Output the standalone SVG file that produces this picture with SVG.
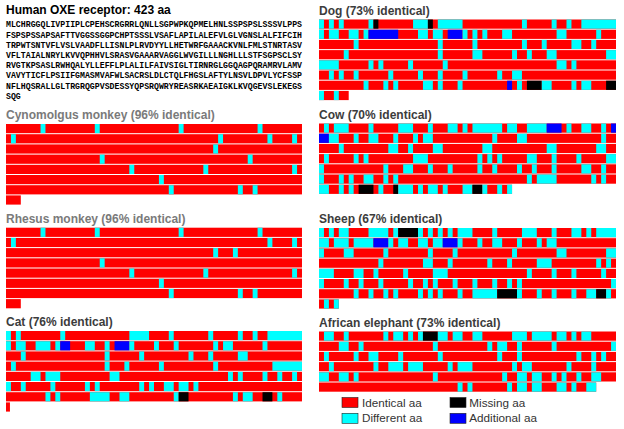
<svg xmlns="http://www.w3.org/2000/svg" width="624" height="429" viewBox="0 0 624 429">
<style>
.r{fill:#ff0000}.c{fill:#00ffff}.k{fill:#000000}.b{fill:#0000ff}
.t{font-family:"Liberation Sans",Arial,sans-serif;font-weight:bold;font-size:12px}
.g1{fill:#7a7a7a}.g2{fill:#3c3c3c}
.seq{font-family:"Liberation Mono","Courier New",monospace;font-weight:bold;font-size:8.2px;fill:#000}
.lg{font-family:"Liberation Sans",Arial,sans-serif;font-size:11.7px;fill:#333}
</style>
<rect width="624" height="429" fill="#fff"/>

<g id="human">
<text class="t" x="6" y="14" fill="#000">Human OXE receptor: 423 aa</text>
<text class="seq" x="6" y="27.3" textLength="296" lengthAdjust="spacing">MLCHRGGQLIVPIIPLCPEHSCRGRRLQNLLSGPWPKQPMELHNLSSPSPSLSSSVLPPS</text>
<text class="seq" x="6" y="37.5" textLength="296" lengthAdjust="spacing">FSPSPSSAPSAFTTVGGSSGGPCHPTSSSLVSAFLAPILALEFVLGLVGNSLALFIFCIH</text>
<text class="seq" x="6" y="47.7" textLength="296" lengthAdjust="spacing">TRPWTSNTVFLVSLVAADFLLISNLPLRVDYYLLHETWRFGAAACKVNLFMLSTNRTASV</text>
<text class="seq" x="6" y="57.9" textLength="296" lengthAdjust="spacing">VFLTAIALNRYLKVVQPHHVLSRASVGAAARVAGGLWVGILLLNGHLLLSTFSGPSCLSY</text>
<text class="seq" x="6" y="68.1" textLength="296" lengthAdjust="spacing">RVGTKPSASLRWHQALYLLEFFLPLALILFAIVSIGLTIRNRGLGGQAGPQRAMRVLAMV</text>
<text class="seq" x="6" y="78.3" textLength="296" lengthAdjust="spacing">VAVYTICFLPSIIFGMASMVAFWLSACRSLDLCTQLFHGSLAFTYLNSVLDPVLYCFSSP</text>
<text class="seq" x="6" y="88.5" textLength="296" lengthAdjust="spacing">NFLHQSRALLGLTRGRQGPVSDESSYQPSRQWRYREASRKAEAIGKLKVQGEVSLEKEGS</text>
<text class="seq" x="6" y="98.9">SQG</text>
</g>

<g id="dog">
<text class="t g2" x="319" y="14.8">Dog (73% identical)</text>
<g transform="translate(319,19.5) scale(4.95,1)">
<rect class="r" x="0" y="0" width="60" height="9.2"/><rect class="r" x="0" y="10.2" width="60" height="9.2"/><rect class="r" x="0" y="20.4" width="60" height="9.2"/><rect class="r" x="0" y="30.6" width="60" height="9.2"/><rect class="r" x="0" y="40.8" width="60" height="9.2"/><rect class="r" x="0" y="51" width="60" height="9.2"/><rect class="r" x="0" y="61.2" width="60" height="9.2"/><rect class="r" x="0" y="71.4" width="6" height="9.2"/>
<rect class="c" x="0" y="0" width="1" height="9.2"/><rect class="c" x="2" y="0" width="1" height="9.2"/><rect class="c" x="4" y="0" width="1" height="9.2"/><rect class="c" x="10" y="0" width="1" height="9.2"/><rect class="k" x="11" y="0" width="1" height="9.2"/><rect class="c" x="19" y="0" width="3" height="9.2"/><rect class="k" x="22" y="0" width="1" height="9.2"/><rect class="c" x="24" y="0" width="5" height="9.2"/><rect class="c" x="41" y="0" width="1" height="9.2"/><rect class="c" x="47" y="0" width="1" height="9.2"/><rect class="c" x="50" y="0" width="1" height="9.2"/><rect class="c" x="53" y="0" width="7" height="9.2"/>
<rect class="c" x="0" y="10.2" width="1" height="9.2"/><rect class="c" x="2" y="10.2" width="2" height="9.2"/><rect class="c" x="6" y="10.2" width="2" height="9.2"/><rect class="c" x="9" y="10.2" width="1" height="9.2"/><rect class="b" x="10" y="10.2" width="6" height="9.2"/><rect class="c" x="20" y="10.2" width="2" height="9.2"/><rect class="c" x="23" y="10.2" width="2" height="9.2"/><rect class="b" x="26" y="10.2" width="3" height="9.2"/><rect class="c" x="29" y="10.2" width="1" height="9.2"/><rect class="c" x="31" y="10.2" width="1" height="9.2"/><rect class="c" x="33" y="10.2" width="1" height="9.2"/><rect class="c" x="37" y="10.2" width="2" height="9.2"/><rect class="c" x="48" y="10.2" width="2" height="9.2"/><rect class="c" x="56" y="10.2" width="1" height="9.2"/>
<rect class="c" x="7" y="20.4" width="1" height="9.2"/><rect class="c" x="24" y="20.4" width="1" height="9.2"/><rect class="c" x="31" y="20.4" width="1" height="9.2"/><rect class="c" x="41" y="20.4" width="1" height="9.2"/><rect class="c" x="45" y="20.4" width="1" height="9.2"/><rect class="c" x="51" y="20.4" width="2" height="9.2"/><rect class="c" x="55" y="20.4" width="1" height="9.2"/>
<rect class="c" x="5" y="30.6" width="1" height="9.2"/><rect class="c" x="24" y="30.6" width="1" height="9.2"/><rect class="c" x="31" y="30.6" width="2" height="9.2"/><rect class="c" x="39" y="30.6" width="1" height="9.2"/><rect class="c" x="42" y="30.6" width="1" height="9.2"/><rect class="c" x="46" y="30.6" width="2" height="9.2"/><rect class="c" x="58" y="30.6" width="2" height="9.2"/>
<rect class="c" x="0" y="40.8" width="4" height="9.2"/><rect class="c" x="10" y="40.8" width="1" height="9.2"/><rect class="c" x="12" y="40.8" width="1" height="9.2"/><rect class="c" x="18" y="40.8" width="1" height="9.2"/><rect class="c" x="25" y="40.8" width="1" height="9.2"/><rect class="c" x="48" y="40.8" width="2" height="9.2"/><rect class="c" x="51" y="40.8" width="1" height="9.2"/>
<rect class="c" x="2" y="51" width="1" height="9.2"/><rect class="c" x="4" y="51" width="1" height="9.2"/><rect class="c" x="7" y="51" width="1" height="9.2"/><rect class="c" x="14" y="51" width="1" height="9.2"/><rect class="c" x="20" y="51" width="1" height="9.2"/><rect class="c" x="24" y="51" width="1" height="9.2"/><rect class="c" x="29" y="51" width="1" height="9.2"/><rect class="c" x="36" y="51" width="1" height="9.2"/><rect class="c" x="39" y="51" width="2" height="9.2"/>
<rect class="c" x="9" y="61.2" width="1" height="9.2"/><rect class="c" x="13" y="61.2" width="1" height="9.2"/><rect class="c" x="15" y="61.2" width="1" height="9.2"/><rect class="c" x="21" y="61.2" width="2" height="9.2"/><rect class="c" x="24" y="61.2" width="1" height="9.2"/><rect class="c" x="28" y="61.2" width="1" height="9.2"/><rect class="b" x="38" y="61.2" width="1" height="9.2"/><rect class="c" x="40" y="61.2" width="1" height="9.2"/><rect class="k" x="42" y="61.2" width="3" height="9.2"/><rect class="c" x="45" y="61.2" width="2" height="9.2"/><rect class="c" x="51" y="61.2" width="1" height="9.2"/><rect class="c" x="53" y="61.2" width="2" height="9.2"/><rect class="k" x="58" y="61.2" width="2" height="9.2"/>
<rect class="c" x="0" y="71.4" width="1" height="9.2"/><rect class="c" x="3" y="71.4" width="1" height="9.2"/>
</g>
</g>

<g id="cynomolgus">
<text class="t g1" x="6" y="119.3">Cynomolgus monkey (96% identical)</text>
<g transform="translate(6,124) scale(4.933,1)">
<rect class="r" x="0" y="0" width="60" height="9.2"/><rect class="r" x="0" y="10.2" width="60" height="9.2"/><rect class="r" x="0" y="20.4" width="60" height="9.2"/><rect class="r" x="0" y="30.6" width="60" height="9.2"/><rect class="r" x="0" y="40.8" width="60" height="9.2"/><rect class="r" x="0" y="51" width="60" height="9.2"/><rect class="r" x="0" y="61.2" width="60" height="9.2"/><rect class="r" x="0" y="71.4" width="3" height="9.2"/>
<rect class="c" x="7" y="0" width="1" height="9.2"/><rect class="c" x="18" y="0" width="1" height="9.2"/><rect class="c" x="35" y="0" width="1" height="9.2"/><rect class="c" x="51" y="0" width="1" height="9.2"/>
<rect class="c" x="1" y="10.2" width="1" height="9.2"/><rect class="c" x="43" y="10.2" width="1" height="9.2"/><rect class="c" x="53" y="10.2" width="1" height="9.2"/><rect class="c" x="58" y="10.2" width="1" height="9.2"/>
<rect class="c" x="42" y="20.4" width="1" height="9.2"/>
<rect class="c" x="19" y="30.6" width="1" height="9.2"/><rect class="c" x="49" y="30.6" width="1" height="9.2"/>
<rect class="c" x="25" y="40.8" width="1" height="9.2"/><rect class="c" x="40" y="40.8" width="1" height="9.2"/><rect class="c" x="58" y="40.8" width="1" height="9.2"/>
<rect class="c" x="31" y="51" width="1" height="9.2"/>
<rect class="c" x="33" y="61.2" width="1" height="9.2"/><rect class="c" x="47" y="61.2" width="1" height="9.2"/><rect class="c" x="50" y="61.2" width="1" height="9.2"/>
</g>
</g>

<g id="cow">
<text class="t g2" x="319" y="118.8">Cow (70% identical)</text>
<g transform="translate(319,123.5) scale(4.95,1)">
<rect class="r" x="0" y="0" width="60" height="9.2"/><rect class="r" x="0" y="10.2" width="60" height="9.2"/><rect class="r" x="0" y="20.4" width="60" height="9.2"/><rect class="r" x="0" y="30.6" width="60" height="9.2"/><rect class="r" x="0" y="40.8" width="60" height="9.2"/><rect class="r" x="0" y="51" width="60" height="9.2"/><rect class="r" x="0" y="61.2" width="39" height="9.2"/>
<rect class="c" x="1" y="0" width="1" height="9.2"/><rect class="c" x="3" y="0" width="3" height="9.2"/><rect class="c" x="10" y="0" width="1" height="9.2"/><rect class="c" x="16" y="0" width="3" height="9.2"/><rect class="c" x="22" y="0" width="1" height="9.2"/><rect class="c" x="26" y="0" width="2" height="9.2"/><rect class="c" x="29" y="0" width="1" height="9.2"/><rect class="c" x="31" y="0" width="6" height="9.2"/><rect class="c" x="38" y="0" width="2" height="9.2"/><rect class="c" x="42" y="0" width="4" height="9.2"/><rect class="b" x="46" y="0" width="3" height="9.2"/><rect class="c" x="50" y="0" width="1" height="9.2"/><rect class="c" x="53" y="0" width="2" height="9.2"/><rect class="c" x="57" y="0" width="1" height="9.2"/><rect class="b" x="59" y="0" width="1" height="9.2"/>
<rect class="b" x="0" y="10.2" width="2" height="9.2"/><rect class="c" x="2" y="10.2" width="2" height="9.2"/><rect class="c" x="7" y="10.2" width="1" height="9.2"/><rect class="c" x="10" y="10.2" width="2" height="9.2"/><rect class="c" x="15" y="10.2" width="1" height="9.2"/><rect class="c" x="19" y="10.2" width="1" height="9.2"/><rect class="c" x="21" y="10.2" width="2" height="9.2"/><rect class="c" x="35" y="10.2" width="1" height="9.2"/><rect class="c" x="40" y="10.2" width="2" height="9.2"/><rect class="c" x="57" y="10.2" width="1" height="9.2"/>
<rect class="c" x="4" y="20.4" width="1" height="9.2"/><rect class="c" x="14" y="20.4" width="2" height="9.2"/><rect class="c" x="18" y="20.4" width="1" height="9.2"/><rect class="c" x="23" y="20.4" width="2" height="9.2"/><rect class="c" x="33" y="20.4" width="2" height="9.2"/><rect class="c" x="46" y="20.4" width="2" height="9.2"/><rect class="c" x="56" y="20.4" width="2" height="9.2"/>
<rect class="c" x="1" y="30.6" width="1" height="9.2"/><rect class="c" x="7" y="30.6" width="1" height="9.2"/><rect class="c" x="9" y="30.6" width="1" height="9.2"/><rect class="c" x="19" y="30.6" width="3" height="9.2"/><rect class="c" x="32" y="30.6" width="1" height="9.2"/><rect class="c" x="34" y="30.6" width="1" height="9.2"/><rect class="c" x="36" y="30.6" width="1" height="9.2"/><rect class="c" x="42" y="30.6" width="2" height="9.2"/><rect class="c" x="47" y="30.6" width="1" height="9.2"/><rect class="c" x="52" y="30.6" width="1" height="9.2"/><rect class="c" x="58" y="30.6" width="2" height="9.2"/>
<rect class="c" x="0" y="40.8" width="1" height="9.2"/><rect class="c" x="13" y="40.8" width="1" height="9.2"/><rect class="c" x="17" y="40.8" width="2" height="9.2"/><rect class="c" x="22" y="40.8" width="1" height="9.2"/><rect class="c" x="26" y="40.8" width="1" height="9.2"/><rect class="c" x="32" y="40.8" width="1" height="9.2"/><rect class="c" x="35" y="40.8" width="1" height="9.2"/><rect class="c" x="40" y="40.8" width="1" height="9.2"/><rect class="c" x="43" y="40.8" width="1" height="9.2"/><rect class="c" x="47" y="40.8" width="1" height="9.2"/><rect class="c" x="53" y="40.8" width="2" height="9.2"/><rect class="c" x="57" y="40.8" width="1" height="9.2"/>
<rect class="c" x="0" y="51" width="1" height="9.2"/><rect class="c" x="4" y="51" width="1" height="9.2"/><rect class="c" x="6" y="51" width="1" height="9.2"/><rect class="c" x="9" y="51" width="2" height="9.2"/><rect class="c" x="13" y="51" width="1" height="9.2"/><rect class="c" x="15" y="51" width="1" height="9.2"/><rect class="c" x="42" y="51" width="1" height="9.2"/><rect class="c" x="44" y="51" width="4" height="9.2"/><rect class="c" x="55" y="51" width="1" height="9.2"/><rect class="c" x="57" y="51" width="1" height="9.2"/>
<rect class="c" x="0" y="61.2" width="2" height="9.2"/><rect class="c" x="4" y="61.2" width="1" height="9.2"/><rect class="c" x="6" y="61.2" width="1" height="9.2"/><rect class="k" x="8" y="61.2" width="3" height="9.2"/><rect class="c" x="12" y="61.2" width="1" height="9.2"/><rect class="k" x="15" y="61.2" width="1" height="9.2"/><rect class="c" x="16" y="61.2" width="3" height="9.2"/><rect class="c" x="20" y="61.2" width="1" height="9.2"/><rect class="c" x="22" y="61.2" width="2" height="9.2"/><rect class="c" x="25" y="61.2" width="1" height="9.2"/><rect class="c" x="29" y="61.2" width="2" height="9.2"/><rect class="k" x="31" y="61.2" width="2" height="9.2"/><rect class="c" x="33" y="61.2" width="1" height="9.2"/><rect class="c" x="36" y="61.2" width="1" height="9.2"/><rect class="c" x="38" y="61.2" width="1" height="9.2"/>
</g>
</g>

<g id="rhesus">
<text class="t g1" x="6" y="223">Rhesus monkey (96% identical)</text>
<g transform="translate(6,227.7) scale(4.933,1)">
<rect class="r" x="0" y="0" width="60" height="9.2"/><rect class="r" x="0" y="10.2" width="60" height="9.2"/><rect class="r" x="0" y="20.4" width="60" height="9.2"/><rect class="r" x="0" y="30.6" width="60" height="9.2"/><rect class="r" x="0" y="40.8" width="60" height="9.2"/><rect class="r" x="0" y="51" width="60" height="9.2"/><rect class="r" x="0" y="61.2" width="60" height="9.2"/><rect class="r" x="0" y="71.4" width="3" height="9.2"/>
<rect class="c" x="7" y="0" width="1" height="9.2"/><rect class="c" x="18" y="0" width="1" height="9.2"/><rect class="c" x="35" y="0" width="1" height="9.2"/><rect class="c" x="51" y="0" width="1" height="9.2"/>
<rect class="c" x="1" y="10.2" width="1" height="9.2"/><rect class="c" x="53" y="10.2" width="1" height="9.2"/><rect class="c" x="58" y="10.2" width="1" height="9.2"/>
<rect class="c" x="42" y="20.4" width="1" height="9.2"/><rect class="c" x="46" y="20.4" width="1" height="9.2"/>
<rect class="c" x="19" y="30.6" width="1" height="9.2"/>
<rect class="c" x="25" y="40.8" width="1" height="9.2"/><rect class="c" x="40" y="40.8" width="1" height="9.2"/><rect class="c" x="58" y="40.8" width="1" height="9.2"/>
<rect class="c" x="31" y="51" width="1" height="9.2"/>
<rect class="c" x="33" y="61.2" width="1" height="9.2"/><rect class="c" x="47" y="61.2" width="1" height="9.2"/><rect class="c" x="50" y="61.2" width="1" height="9.2"/>
</g>
</g>

<g id="sheep">
<text class="t g2" x="319" y="223.3">Sheep (67% identical)</text>
<g transform="translate(319,228) scale(4.95,1)">
<rect class="r" x="0" y="0" width="60" height="9.2"/><rect class="r" x="0" y="10.2" width="60" height="9.2"/><rect class="r" x="0" y="20.4" width="60" height="9.2"/><rect class="r" x="0" y="30.6" width="60" height="9.2"/><rect class="r" x="0" y="40.8" width="60" height="9.2"/><rect class="r" x="0" y="51" width="60" height="9.2"/><rect class="r" x="0" y="61.2" width="60" height="9.2"/><rect class="r" x="0" y="71.4" width="4" height="9.2"/>
<rect class="c" x="0" y="0" width="1" height="9.2"/><rect class="c" x="2" y="0" width="1" height="9.2"/><rect class="c" x="4" y="0" width="2" height="9.2"/><rect class="c" x="10" y="0" width="4" height="9.2"/><rect class="c" x="15" y="0" width="1" height="9.2"/><rect class="k" x="16" y="0" width="4" height="9.2"/><rect class="c" x="20" y="0" width="1" height="9.2"/><rect class="c" x="22" y="0" width="1" height="9.2"/><rect class="c" x="24" y="0" width="1" height="9.2"/><rect class="c" x="26" y="0" width="1" height="9.2"/><rect class="c" x="28" y="0" width="3" height="9.2"/><rect class="c" x="35" y="0" width="1" height="9.2"/><rect class="c" x="41" y="0" width="3" height="9.2"/><rect class="c" x="47" y="0" width="1" height="9.2"/><rect class="c" x="51" y="0" width="2" height="9.2"/><rect class="c" x="54" y="0" width="1" height="9.2"/><rect class="c" x="56" y="0" width="4" height="9.2"/>
<rect class="c" x="0" y="10.2" width="2" height="9.2"/><rect class="c" x="3" y="10.2" width="3" height="9.2"/><rect class="c" x="7" y="10.2" width="4" height="9.2"/><rect class="b" x="11" y="10.2" width="3" height="9.2"/><rect class="c" x="14" y="10.2" width="1" height="9.2"/><rect class="c" x="16" y="10.2" width="2" height="9.2"/><rect class="c" x="20" y="10.2" width="2" height="9.2"/><rect class="c" x="23" y="10.2" width="2" height="9.2"/><rect class="b" x="25" y="10.2" width="3" height="9.2"/><rect class="c" x="28" y="10.2" width="1" height="9.2"/><rect class="c" x="32" y="10.2" width="1" height="9.2"/><rect class="c" x="35" y="10.2" width="2" height="9.2"/><rect class="c" x="40" y="10.2" width="1" height="9.2"/><rect class="c" x="44" y="10.2" width="1" height="9.2"/><rect class="c" x="46" y="10.2" width="2" height="9.2"/>
<rect class="c" x="0" y="20.4" width="1" height="9.2"/><rect class="c" x="5" y="20.4" width="2" height="9.2"/><rect class="c" x="13" y="20.4" width="1" height="9.2"/><rect class="c" x="22" y="20.4" width="1" height="9.2"/><rect class="c" x="27" y="20.4" width="1" height="9.2"/><rect class="c" x="39" y="20.4" width="1" height="9.2"/><rect class="c" x="48" y="20.4" width="2" height="9.2"/><rect class="c" x="58" y="20.4" width="2" height="9.2"/>
<rect class="c" x="12" y="30.6" width="1" height="9.2"/><rect class="c" x="21" y="30.6" width="2" height="9.2"/><rect class="c" x="26" y="30.6" width="1" height="9.2"/><rect class="c" x="34" y="30.6" width="1" height="9.2"/><rect class="c" x="38" y="30.6" width="1" height="9.2"/><rect class="c" x="44" y="30.6" width="3" height="9.2"/><rect class="c" x="56" y="30.6" width="1" height="9.2"/><rect class="c" x="58" y="30.6" width="1" height="9.2"/>
<rect class="c" x="0" y="40.8" width="3" height="9.2"/><rect class="c" x="7" y="40.8" width="2" height="9.2"/><rect class="c" x="11" y="40.8" width="1" height="9.2"/><rect class="c" x="17" y="40.8" width="1" height="9.2"/><rect class="c" x="23" y="40.8" width="3" height="9.2"/><rect class="c" x="42" y="40.8" width="1" height="9.2"/><rect class="c" x="47" y="40.8" width="1" height="9.2"/><rect class="c" x="51" y="40.8" width="1" height="9.2"/><rect class="c" x="57" y="40.8" width="1" height="9.2"/>
<rect class="c" x="0" y="51" width="1" height="9.2"/><rect class="c" x="5" y="51" width="1" height="9.2"/><rect class="c" x="8" y="51" width="1" height="9.2"/><rect class="c" x="12" y="51" width="1" height="9.2"/><rect class="c" x="18" y="51" width="1" height="9.2"/><rect class="c" x="21" y="51" width="1" height="9.2"/><rect class="c" x="23" y="51" width="1" height="9.2"/><rect class="c" x="27" y="51" width="1" height="9.2"/><rect class="c" x="31" y="51" width="1" height="9.2"/><rect class="c" x="35" y="51" width="1" height="9.2"/><rect class="c" x="38" y="51" width="1" height="9.2"/><rect class="c" x="40" y="51" width="1" height="9.2"/><rect class="c" x="59" y="51" width="1" height="9.2"/>
<rect class="c" x="7" y="61.2" width="1" height="9.2"/><rect class="c" x="10" y="61.2" width="1" height="9.2"/><rect class="c" x="13" y="61.2" width="1" height="9.2"/><rect class="c" x="15" y="61.2" width="1" height="9.2"/><rect class="c" x="20" y="61.2" width="1" height="9.2"/><rect class="c" x="22" y="61.2" width="1" height="9.2"/><rect class="c" x="24" y="61.2" width="1" height="9.2"/><rect class="c" x="28" y="61.2" width="1" height="9.2"/><rect class="c" x="31" y="61.2" width="5" height="9.2"/><rect class="k" x="36" y="61.2" width="4" height="9.2"/><rect class="c" x="40" y="61.2" width="1" height="9.2"/><rect class="c" x="44" y="61.2" width="1" height="9.2"/><rect class="c" x="47" y="61.2" width="1" height="9.2"/><rect class="c" x="51" y="61.2" width="1" height="9.2"/><rect class="c" x="54" y="61.2" width="2" height="9.2"/><rect class="k" x="56" y="61.2" width="2" height="9.2"/><rect class="c" x="58" y="61.2" width="1" height="9.2"/>
<rect class="c" x="1" y="71.4" width="1" height="9.2"/><rect class="c" x="3" y="71.4" width="1" height="9.2"/>
</g>
</g>

<g id="cat">
<text class="t g2" x="6" y="326.3">Cat (76% identical)</text>
<g transform="translate(6,331) scale(4.933,1)">
<rect class="r" x="0" y="0" width="60" height="9.2"/><rect class="r" x="0" y="10.2" width="60" height="9.2"/><rect class="r" x="0" y="20.4" width="60" height="9.2"/><rect class="r" x="0" y="30.6" width="60" height="9.2"/><rect class="r" x="0" y="40.8" width="60" height="9.2"/><rect class="r" x="0" y="51" width="60" height="9.2"/><rect class="r" x="0" y="61.2" width="60" height="9.2"/><rect class="r" x="0" y="71.4" width="0.8" height="9.2"/>
<rect class="c" x="0" y="0" width="1" height="9.2"/><rect class="c" x="2" y="0" width="1" height="9.2"/><rect class="c" x="11" y="0" width="1" height="9.2"/><rect class="c" x="25" y="0" width="4" height="9.2"/><rect class="c" x="33" y="0" width="1" height="9.2"/><rect class="c" x="41" y="0" width="1" height="9.2"/><rect class="c" x="47" y="0" width="1" height="9.2"/><rect class="c" x="50" y="0" width="1" height="9.2"/><rect class="c" x="53" y="0" width="7" height="9.2"/>
<rect class="c" x="0" y="10.2" width="1" height="9.2"/><rect class="c" x="2" y="10.2" width="2" height="9.2"/><rect class="c" x="6" y="10.2" width="3" height="9.2"/><rect class="c" x="10" y="10.2" width="1" height="9.2"/><rect class="b" x="11" y="10.2" width="2" height="9.2"/><rect class="c" x="16" y="10.2" width="2" height="9.2"/><rect class="c" x="20" y="10.2" width="1" height="9.2"/><rect class="b" x="22" y="10.2" width="3" height="9.2"/><rect class="c" x="25" y="10.2" width="1" height="9.2"/><rect class="c" x="30" y="10.2" width="1" height="9.2"/><rect class="c" x="34" y="10.2" width="1" height="9.2"/><rect class="c" x="42" y="10.2" width="1" height="9.2"/><rect class="c" x="44" y="10.2" width="2" height="9.2"/><rect class="c" x="52" y="10.2" width="1" height="9.2"/>
<rect class="c" x="3" y="20.4" width="1" height="9.2"/><rect class="c" x="20" y="20.4" width="1" height="9.2"/><rect class="c" x="27" y="20.4" width="1" height="9.2"/><rect class="c" x="37" y="20.4" width="1" height="9.2"/><rect class="c" x="41" y="20.4" width="1" height="9.2"/><rect class="c" x="47" y="20.4" width="2" height="9.2"/>
<rect class="c" x="1" y="30.6" width="1" height="9.2"/><rect class="c" x="20" y="30.6" width="1" height="9.2"/><rect class="c" x="24" y="30.6" width="1" height="9.2"/><rect class="c" x="31" y="30.6" width="1" height="9.2"/><rect class="c" x="42" y="30.6" width="1" height="9.2"/><rect class="c" x="54" y="30.6" width="6" height="9.2"/>
<rect class="c" x="5" y="40.8" width="2" height="9.2"/><rect class="c" x="8" y="40.8" width="3" height="9.2"/><rect class="c" x="21" y="40.8" width="2" height="9.2"/><rect class="c" x="45" y="40.8" width="1" height="9.2"/><rect class="c" x="47" y="40.8" width="1" height="9.2"/><rect class="c" x="52" y="40.8" width="1" height="9.2"/><rect class="c" x="55" y="40.8" width="1" height="9.2"/><rect class="c" x="58" y="40.8" width="1" height="9.2"/>
<rect class="c" x="0" y="51" width="1" height="9.2"/><rect class="c" x="3" y="51" width="1" height="9.2"/><rect class="c" x="9" y="51" width="1" height="9.2"/><rect class="c" x="16" y="51" width="1" height="9.2"/><rect class="c" x="18" y="51" width="1" height="9.2"/><rect class="c" x="27" y="51" width="1" height="9.2"/><rect class="c" x="29" y="51" width="1" height="9.2"/><rect class="c" x="32" y="51" width="2" height="9.2"/><rect class="c" x="35" y="51" width="2" height="9.2"/><rect class="c" x="38" y="51" width="1" height="9.2"/>
<rect class="c" x="8" y="61.2" width="1" height="9.2"/><rect class="c" x="10" y="61.2" width="1" height="9.2"/><rect class="c" x="17" y="61.2" width="4" height="9.2"/><rect class="c" x="23" y="61.2" width="2" height="9.2"/><rect class="c" x="34" y="61.2" width="1" height="9.2"/><rect class="k" x="35" y="61.2" width="2" height="9.2"/><rect class="c" x="46" y="61.2" width="1" height="9.2"/><rect class="c" x="48" y="61.2" width="2" height="9.2"/><rect class="k" x="52" y="61.2" width="2" height="9.2"/><rect class="c" x="55" y="61.2" width="1" height="9.2"/>
</g>
</g>

<g id="elephant">
<text class="t g2" x="319" y="326.8">African elephant (73% identical)</text>
<g transform="translate(319,331.5) scale(4.95,1)">
<rect class="r" x="0" y="0" width="60" height="9.2"/><rect class="r" x="0" y="10.2" width="60" height="9.2"/><rect class="r" x="0" y="20.4" width="60" height="9.2"/><rect class="r" x="0" y="30.6" width="60" height="9.2"/><rect class="r" x="0" y="40.8" width="60" height="9.2"/><rect class="r" x="0" y="51" width="56" height="9.2"/>
<rect class="c" x="1" y="0" width="2" height="9.2"/><rect class="c" x="5" y="0" width="1" height="9.2"/><rect class="c" x="13" y="0" width="1" height="9.2"/><rect class="c" x="15" y="0" width="2" height="9.2"/><rect class="c" x="18" y="0" width="1" height="9.2"/><rect class="c" x="20" y="0" width="1" height="9.2"/><rect class="k" x="21" y="0" width="3" height="9.2"/><rect class="c" x="24" y="0" width="2" height="9.2"/><rect class="c" x="27" y="0" width="2" height="9.2"/><rect class="c" x="31" y="0" width="2" height="9.2"/><rect class="c" x="39" y="0" width="3" height="9.2"/><rect class="c" x="43" y="0" width="4" height="9.2"/><rect class="c" x="48" y="0" width="2" height="9.2"/><rect class="c" x="51" y="0" width="1" height="9.2"/><rect class="c" x="53" y="0" width="2" height="9.2"/>
<rect class="c" x="4" y="10.2" width="2" height="9.2"/><rect class="c" x="8" y="10.2" width="1" height="9.2"/><rect class="c" x="23" y="10.2" width="1" height="9.2"/><rect class="c" x="34" y="10.2" width="1" height="9.2"/><rect class="c" x="36" y="10.2" width="2" height="9.2"/><rect class="c" x="40" y="10.2" width="1" height="9.2"/><rect class="c" x="47" y="10.2" width="1" height="9.2"/><rect class="c" x="59" y="10.2" width="1" height="9.2"/>
<rect class="c" x="1" y="20.4" width="1" height="9.2"/><rect class="c" x="7" y="20.4" width="1" height="9.2"/><rect class="c" x="10" y="20.4" width="2" height="9.2"/><rect class="c" x="16" y="20.4" width="1" height="9.2"/><rect class="c" x="24" y="20.4" width="1" height="9.2"/><rect class="c" x="36" y="20.4" width="1" height="9.2"/><rect class="c" x="40" y="20.4" width="1" height="9.2"/><rect class="c" x="52" y="20.4" width="1" height="9.2"/><rect class="c" x="55" y="20.4" width="1" height="9.2"/><rect class="c" x="57" y="20.4" width="1" height="9.2"/>
<rect class="c" x="2" y="30.6" width="1" height="9.2"/><rect class="c" x="11" y="30.6" width="1" height="9.2"/><rect class="c" x="14" y="30.6" width="3" height="9.2"/><rect class="c" x="18" y="30.6" width="3" height="9.2"/><rect class="c" x="26" y="30.6" width="1" height="9.2"/><rect class="c" x="28" y="30.6" width="3" height="9.2"/><rect class="c" x="39" y="30.6" width="1" height="9.2"/><rect class="c" x="41" y="30.6" width="2" height="9.2"/><rect class="c" x="50" y="30.6" width="1" height="9.2"/><rect class="c" x="55" y="30.6" width="1" height="9.2"/>
<rect class="c" x="0" y="40.8" width="2" height="9.2"/><rect class="c" x="4" y="40.8" width="2" height="9.2"/><rect class="c" x="7" y="40.8" width="1" height="9.2"/><rect class="c" x="23" y="40.8" width="1" height="9.2"/><rect class="c" x="37" y="40.8" width="1" height="9.2"/><rect class="c" x="40" y="40.8" width="2" height="9.2"/><rect class="c" x="43" y="40.8" width="2" height="9.2"/><rect class="c" x="47" y="40.8" width="1" height="9.2"/><rect class="c" x="49" y="40.8" width="1" height="9.2"/><rect class="c" x="52" y="40.8" width="1" height="9.2"/><rect class="c" x="55" y="40.8" width="2" height="9.2"/>
<rect class="c" x="28" y="51" width="1" height="9.2"/><rect class="c" x="30" y="51" width="1" height="9.2"/><rect class="c" x="38" y="51" width="1" height="9.2"/><rect class="c" x="40" y="51" width="2" height="9.2"/><rect class="c" x="43" y="51" width="2" height="9.2"/><rect class="c" x="48" y="51" width="2" height="9.2"/><rect class="c" x="51" y="51" width="1" height="9.2"/><rect class="c" x="54" y="51" width="2" height="9.2"/>
</g>
</g>

<g id="legend">
<rect class="r" x="342" y="397.5" width="16" height="10" stroke="#222" stroke-width="0.6"/>
<text class="lg" x="362" y="406.8">Identical aa</text>
<rect class="c" x="342" y="413.3" width="16" height="10" stroke="#222" stroke-width="0.6"/>
<text class="lg" x="362" y="422.4">Different aa</text>
<rect class="k" x="450" y="397.5" width="16" height="10" stroke="#222" stroke-width="0.6"/>
<text class="lg" x="469.3" y="406.8">Missing aa</text>
<rect class="b" x="450" y="413.3" width="16" height="10" stroke="#222" stroke-width="0.6"/>
<text class="lg" x="469.3" y="422.4">Additional aa</text>
</g>
</svg>
